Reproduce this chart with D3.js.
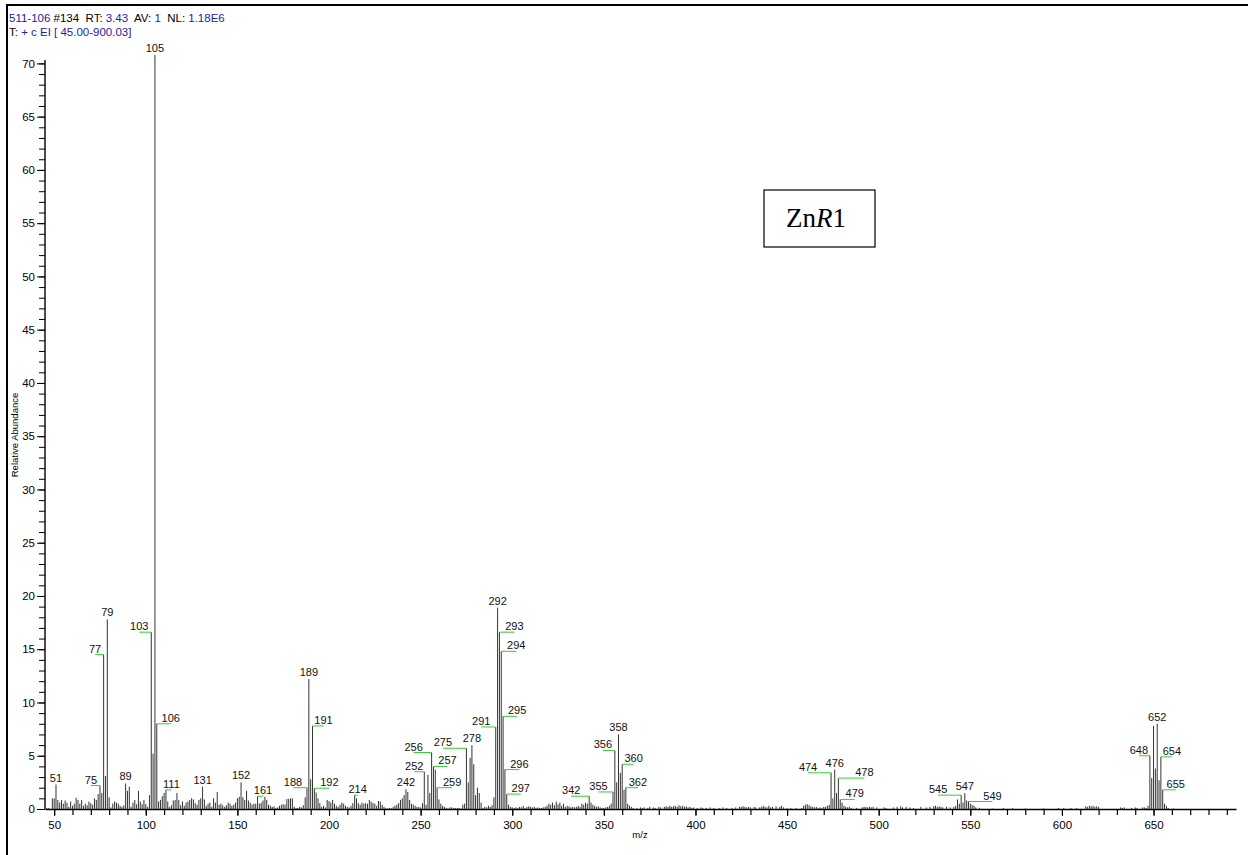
<!DOCTYPE html>
<html lang="en">

<head>
  <meta charset="utf-8">
  <title>ZnR1 mass spectrum</title>
  <script type="text/javascript" src="https://cdn.jsdelivr.net/npm/d3@7"></script>
  <style type="text/css">
    body { margin: 0; background: #fff; }
    svg { display: block; font-family: "Liberation Sans", Arial, sans-serif; }
  </style>
</head>

<body>
  <script type="text/javascript">

    // Width og height
    const w = 1248;
    const h = 855;

    // Spectrum, [m/z, relative abundance], split by mass range
    const massLow = [
      [46, 0.1], [47, 0.1], [49, 1.0], [50, 1.0], [51, 2.3], [52, 0.85], [53, 0.6], [54, 0.85], [55, 0.5],
      [56, 0.8], [57, 0.6], [58, 0.2], [59, 0.7], [60, 0.3], [61, 0.5], [62, 1.05], [63, 0.85], [64, 0.5],
      [65, 0.85], [66, 0.3], [67, 0.5], [68, 0.35], [69, 0.7], [70, 0.55], [71, 0.4], [72, 1.0], [73, 0.85],
      [74, 1.4], [75, 2.2], [76, 1.5], [77, 14.5], [78, 3.1], [79, 17.8], [80, 1.1], [81, 0.15], [82, 0.5],
      [83, 0.7], [84, 0.6], [85, 0.5], [86, 0.3], [87, 0.2], [88, 0.35], [89, 2.4], [90, 1.7], [91, 2.1],
      [92, 0.2], [93, 0.6], [94, 0.85], [95, 0.45], [96, 1.7], [97, 0.7], [98, 0.45], [99, 0.85], [100, 0.45]
    ];
    const mass100 = [
      [101, 0.2], [102, 1.3], [103, 16.6], [104, 5.2], [105, 70.8], [106, 8.0], [107, 0.7], [108, 0.85],
      [109, 1.2], [110, 1.5], [111, 1.8], [112, 0.7], [113, 0.2], [114, 0.35], [115, 0.8], [116, 0.85],
      [117, 1.5], [118, 0.85], [119, 0.35], [120, 0.7], [121, 0.3], [122, 0.6], [123, 0.7], [124, 0.85],
      [125, 1.0], [126, 0.9], [127, 0.55], [128, 0.4], [129, 0.85], [130, 1.0], [131, 2.1], [132, 0.9],
      [133, 0.3], [134, 0.5], [135, 0.6], [136, 0.2], [137, 1.0], [138, 0.6], [139, 1.6], [140, 0.4],
      [141, 0.5], [142, 0.35], [143, 0.2], [144, 0.35], [145, 0.6], [146, 0.5], [147, 0.3], [148, 0.4],
      [149, 0.6], [150, 1.0], [151, 1.15], [152, 2.5], [153, 1.1], [154, 0.85], [155, 1.7], [156, 0.8],
      [157, 0.6], [158, 0.4], [159, 0.5], [160, 0.5], [161, 1.2], [162, 0.5], [163, 0.6], [164, 0.8],
      [165, 1.15], [166, 0.85], [167, 0.4], [168, 0.3], [169, 0.2], [170, 0.25]
    ];
    const mass170 = [
      [171, 0.1], [172, 0.15], [173, 0.3], [174, 0.4], [175, 0.45], [176, 0.4], [177, 0.95], [178, 0.95],
      [179, 1.0], [180, 1.0], [181, 0.2], [182, 0.1], [183, 0.1], [184, 0.2], [185, 0.15], [186, 0.35],
      [187, 1.1], [188, 2.0], [189, 12.2], [190, 2.8], [191, 7.8], [192, 1.95], [193, 1.55], [194, 1.0],
      [195, 0.55], [196, 0.2], [197, 0.3], [198, 0.15], [199, 0.85], [200, 0.75], [201, 0.6], [202, 0.85],
      [203, 0.5], [204, 0.3], [205, 0.2], [206, 0.4], [207, 0.6], [208, 0.5], [209, 0.3], [210, 0.2],
      [211, 0.15], [212, 0.3], [213, 0.55], [214, 1.3], [215, 1.0], [216, 0.55], [217, 0.4], [218, 0.6],
      [219, 0.5], [220, 0.55], [221, 0.5], [222, 0.85], [223, 0.7], [224, 0.55], [225, 0.5], [226, 0.3],
      [227, 0.75], [228, 0.7], [229, 0.4], [230, 0.2], [231, 0.1], [232, 0.05], [233, 0.1], [234, 0.1],
      [235, 0.2], [236, 0.3], [237, 0.4], [238, 0.55], [239, 0.85], [240, 1.0], [241, 1.3], [242, 1.85],
      [243, 1.6], [244, 0.85], [245, 0.5], [246, 0.4], [247, 0.3], [248, 0.2], [249, 0.2], [250, 0.15],
      [251, 0.55]
    ];
    const mass250 = [
      [252, 3.5], [253, 0.4], [254, 3.2], [255, 1.5], [256, 5.3], [257, 4.0], [258, 3.7], [259, 2.0],
      [260, 0.9], [261, 0.5], [262, 0.3], [263, 0.2], [264, 0.1], [265, 0.05], [266, 0.15], [267, 0.15],
      [268, 0.1], [269, 0.1], [270, 0.1], [271, 0.1], [272, 0.05], [273, 0.4], [274, 0.5], [275, 5.7],
      [276, 2.5], [277, 4.8], [278, 6.0], [279, 4.2], [280, 1.3], [281, 2.0], [282, 1.5], [283, 0.6],
      [284, 0.1], [285, 0.2], [286, 0.15], [287, 0.3], [288, 0.2], [289, 0.35], [290, 1.1], [291, 7.7],
      [292, 18.9], [293, 16.6], [294, 14.8], [295, 8.7], [296, 3.7], [297, 1.4], [298, 0.4], [299, 0.2],
      [300, 0.15]
    ];
    const mass300 = [
      [301, 0.1], [302, 0.15], [303, 0.1], [304, 0.2], [305, 0.15], [306, 0.3], [307, 0.1], [308, 0.2],
      [309, 0.25], [310, 0.2], [311, 0.15], [312, 0.2], [313, 0.1], [314, 0.15], [315, 0.1], [316, 0.1],
      [317, 0.15], [318, 0.2], [319, 0.3], [320, 0.5], [321, 0.4], [322, 0.6], [323, 0.35], [324, 0.7],
      [325, 0.45], [326, 0.6], [327, 0.3], [328, 0.5], [329, 0.2], [330, 0.3], [331, 0.25], [332, 0.15],
      [333, 0.2], [334, 0.15], [335, 0.2], [336, 0.3], [337, 0.2], [338, 0.5], [339, 0.4], [340, 0.6],
      [341, 0.5], [342, 1.2], [343, 0.6], [344, 0.4], [345, 0.3], [346, 0.2], [347, 0.25], [348, 0.15],
      [349, 0.1], [350, 0.1], [351, 0.15], [352, 0.2], [353, 0.3], [354, 0.5], [355, 1.6], [356, 5.5],
      [357, 2.5], [358, 7.0], [359, 3.4], [360, 4.2], [361, 1.8], [362, 2.0], [363, 0.5], [364, 0.3],
      [365, 0.2], [366, 0.1], [368, 0.1], [370, 0.15]
    ];
    const mass370 = [
      [371, 0.1], [372, 0.15], [374, 0.1], [375, 0.2], [377, 0.15], [378, 0.1], [380, 0.2], [381, 0.15],
      [383, 0.2], [384, 0.25], [385, 0.2], [386, 0.3], [387, 0.2], [388, 0.25], [389, 0.3], [390, 0.2],
      [391, 0.35], [392, 0.25], [393, 0.3], [394, 0.2], [395, 0.25], [396, 0.15], [397, 0.2], [398, 0.1],
      [399, 0.15], [401, 0.1], [403, 0.15], [404, 0.1], [406, 0.1], [408, 0.15], [410, 0.1], [413, 0.1],
      [415, 0.15], [417, 0.1], [420, 0.1], [422, 0.15], [424, 0.2], [425, 0.2], [426, 0.25], [427, 0.2],
      [428, 0.15], [429, 0.2], [430, 0.15], [432, 0.2], [433, 0.15], [435, 0.15], [436, 0.2], [437, 0.3],
      [438, 0.2], [439, 0.15], [440, 0.3], [441, 0.15], [442, 0.2], [444, 0.25], [446, 0.2], [447, 0.3],
      [448, 0.15], [450, 0.1], [452, 0.1], [455, 0.1], [458, 0.1], [459, 0.3], [460, 0.4], [461, 0.45],
      [462, 0.35], [463, 0.25], [464, 0.2], [465, 0.15], [466, 0.2], [467, 0.1], [468, 0.15], [469, 0.1],
      [470, 0.2]
    ];
    const mass470 = [
      [471, 0.2], [472, 0.3], [473, 0.4], [474, 3.4], [475, 1.0], [476, 3.7], [477, 1.5], [478, 2.9],
      [479, 0.9], [480, 0.6], [481, 0.3], [482, 0.2], [483, 0.15], [484, 0.2], [485, 0.1], [488, 0.1],
      [491, 0.15], [492, 0.2], [493, 0.2], [494, 0.15], [495, 0.2], [496, 0.15], [497, 0.2], [499, 0.15],
      [503, 0.15], [504, 0.1], [508, 0.15], [510, 0.2], [512, 0.25], [513, 0.15], [515, 0.2], [517, 0.15],
      [519, 0.1], [523, 0.2], [526, 0.15], [528, 0.2], [530, 0.25], [531, 0.3], [532, 0.2], [533, 0.25],
      [534, 0.2], [535, 0.15], [537, 0.2], [539, 0.15], [541, 0.2], [542, 0.3], [543, 0.9], [544, 0.5],
      [545, 1.3], [546, 0.6], [547, 1.5], [548, 0.8], [549, 0.7], [550, 0.5], [551, 0.4], [552, 0.3],
      [553, 0.15], [555, 0.1]
    ];
    const massHigh = [
      [562, 0.05], [568, 0.1], [573, 0.1], [580, 0.05], [590, 0.05], [598, 0.1], [601, 0.1], [605, 0.1],
      [608, 0.1], [613, 0.25], [614, 0.2], [615, 0.3], [616, 0.25], [617, 0.3], [618, 0.2], [619, 0.25],
      [620, 0.2], [632, 0.15], [633, 0.1], [634, 0.15], [638, 0.1], [640, 0.15], [641, 0.1], [644, 0.15],
      [645, 0.15], [646, 0.1], [647, 0.3], [648, 5.0], [649, 2.9], [650, 7.8], [651, 3.8], [652, 8.0],
      [653, 2.7], [654, 4.9], [655, 1.8], [656, 0.5], [657, 0.3], [658, 0.1], [661, 0.05]
    ];

    // Labelled peaks
    const labelled = [51, 75, 77, 79, 89, 103, 105, 106, 111, 131, 152, 161, 188, 189, 191, 192, 214, 242,
      252, 256, 257, 259, 275, 278, 291, 292, 293, 294, 295, 296, 297, 342, 355, 356, 358, 360, 362,
      474, 476, 478, 479, 545, 547, 549, 648, 652, 654, 655];

    // Axis ticks
    const xMajor = [50, 100, 150, 200, 250, 300, 350, 400, 450, 500, 550, 600, 650];
    const yMajor = [0, 5, 10, 15, 20, 25, 30, 35, 40, 45, 50, 55, 60, 65, 70];

    // Label shift sideways in px (the green leader lines)
    const labelShift = {
      75: -9, 77: -8.5, 103: -12, 106: 14, 111: 5.5, 161: 5.5, 188: -14, 191: 11, 192: 15, 214: 3,
      252: -10, 256: -18, 257: 14, 259: 15, 275: -23.5, 291: -14.5, 293: 15, 294: 15, 295: 14, 296: 14.5,
      297: 14, 342: -18, 355: -14.5, 356: -12, 360: 11.5, 362: 12, 474: -23, 478: 26, 479: 14.5,
      545: -23, 549: 24, 648: -11, 654: 11, 655: 13
    };

    const spectrum = [].concat(massLow, mass100, mass170, mass250, mass300, mass370, mass470, massHigh);
    const byMass = new Map(spectrum);

    const svg = d3.select("body")
      .append("svg")
      .attr("width", w)
      .attr("height", h);

    // Frame (only top and left edge show)
    svg.append("line").attr("x1", 6).attr("x2", w).attr("y1", 5).attr("y2", 5)
      .attr("stroke", "#000").attr("stroke-width", 2);
    svg.append("line").attr("x1", 7).attr("x2", 7).attr("y1", 4).attr("y2", h)
      .attr("stroke", "#000").attr("stroke-width", 2);

    // Header
    const blue = "#2222a6";
    const head1 = [["511-106", blue], [" #134  ", "#000"], ["RT: ", "#000"], ["3.43", blue],
      ["  AV: ", "#000"], ["1", blue], ["  NL: ", "#000"], ["1.18E6", blue]];
    const head2 = [["T: ", "#000"], ["+ c EI [ 45.00-900.03]", blue]];
    [[head1, 22], [head2, 36]].forEach(function (row) {
      const t = svg.append("text")
        .attr("x", 9).attr("y", row[1])
        .attr("font-size", 11.5)
        .attr("xml:space", "preserve");
      row[0].forEach(function (p) {
        t.append("tspan").attr("fill", p[1]).text(p[0]);
      });
    });

    // Scales
    const x = d3.scaleLinear().domain([45, 695]).range([45, 1236]);
    const y = d3.scaleLinear().domain([0, 70.6]).range([809, 57]);

    // X axis: minor ticks every 10, labels every 50
    svg.append("g")
      .attr("transform", "translate(0,809)")
      .call(d3.axisBottom(x).tickValues(d3.range(50, 691, 10)).tickSize(6).tickSizeOuter(0).tickFormat(""))
      .call(g => g.selectAll("line").attr("stroke-width", 1.2));
    const xg = svg.append("g")
      .attr("transform", "translate(0,809)")
      .call(d3.axisBottom(x).tickValues(xMajor).tickSize(7).tickPadding(5).tickSizeOuter(0));
    xg.select(".domain").remove();
    xg.selectAll("text").attr("font-size", 11.5).attr("fill", "#000").attr("font-family", null);

    // Y axis: minor ticks every 1, labels every 5
    svg.append("g")
      .attr("transform", "translate(45,0)")
      .call(d3.axisLeft(y).tickValues(d3.range(0, 71, 1)).tickSize(6).tickSizeOuter(0).tickFormat(""))
      .call(g => g.select(".domain").attr("d", "M0," + y(0) + "V60"));
    const yg = svg.append("g")
      .attr("transform", "translate(45,0)")
      .call(d3.axisLeft(y).tickValues(yMajor).tickSize(8).tickPadding(2).tickSizeOuter(0));
    yg.select(".domain").remove();
    yg.selectAll("text").attr("font-size", 11.5).attr("fill", "#000").attr("font-family", null);
    svg.selectAll(".domain").attr("stroke-width", 1.4);

    // Peaks
    svg.append("g")
      .selectAll("line")
      .data(spectrum)
      .enter()
      .append("line")
      .attr("x1", d => x(d[0]))
      .attr("x2", d => x(d[0]))
      .attr("y1", y(0))
      .attr("y2", d => y(d[1]))
      .attr("stroke", "#333")
      .attr("stroke-width", 1);

    // Peak labels and leader lines
    const lab = svg.append("g");
    labelled.forEach(function (m) {
      const px = x(m);
      const py = y(byMass.get(m));
      const dx = labelShift[m] || 0;
      if (dx !== 0) {
        lab.append("line")
          .attr("x1", px).attr("x2", px + dx)
          .attr("y1", py).attr("y2", py)
          .attr("stroke", "#33cc33")
          .attr("stroke-width", 1);
      }
      lab.append("text")
        .attr("x", px + dx)
        .attr("y", py - (dx !== 0 ? 2 : 3))
        .attr("text-anchor", "middle")
        .attr("font-size", 11)
        .attr("fill", "#111")
        .text(m);
    });

    // Axis titles
    svg.append("text")
      .attr("x", 640).attr("y", 838)
      .attr("text-anchor", "middle")
      .attr("font-size", 9.5)
      .text("m/z");
    svg.append("text")
      .attr("transform", "translate(18,435) rotate(-90)")
      .attr("text-anchor", "middle")
      .attr("font-size", 9.5)
      .text("Relative Abundance");

    // Compound box
    svg.append("rect")
      .attr("x", 764).attr("y", 190)
      .attr("width", 111).attr("height", 57)
      .attr("fill", "none")
      .attr("stroke", "#000")
      .attr("stroke-width", 1.2);
    const zn = svg.append("text")
      .attr("x", 816).attr("y", 227)
      .attr("text-anchor", "middle")
      .attr("font-family", "'Liberation Serif', 'Times New Roman', serif")
      .attr("font-size", 27);
    zn.append("tspan").text("Zn");
    zn.append("tspan").attr("font-style", "italic").text("R");
    zn.append("tspan").text("1");

  </script>
</body>

</html>
